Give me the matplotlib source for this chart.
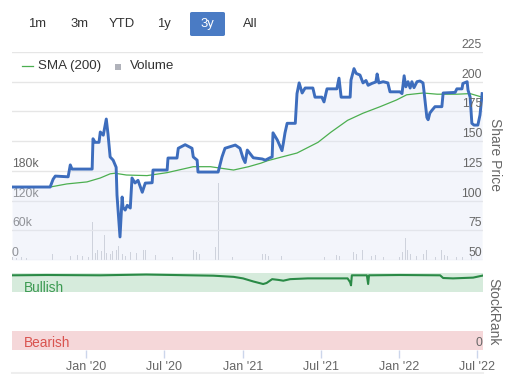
import matplotlib
matplotlib.use("Agg")
import matplotlib.pyplot as plt
import matplotlib.transforms as mtransforms
from matplotlib.patches import FancyBboxPatch, Rectangle
from matplotlib.lines import Line2D
import pandas as pd

plt.rcParams["font.family"] = ["Liberation Sans", "DejaVu Sans"]

# ---- share price ----
price_dates = [
    "2019-07-12", "2019-10-09", "2019-10-16", "2019-10-21", "2019-11-20", "2019-11-25",
    "2019-11-29", "2020-01-15", "2020-01-17", "2020-01-22", "2020-01-31", "2020-02-03",
    "2020-02-10", "2020-02-17", "2020-02-21", "2020-02-26", "2020-03-04", "2020-03-11",
    "2020-03-13", "2020-03-20", "2020-03-25", "2020-03-27", "2020-04-01", "2020-04-06",
    "2020-04-13", "2020-04-17", "2020-04-24", "2020-05-01", "2020-05-11", "2020-05-18",
    "2020-06-03", "2020-06-05", "2020-07-08", "2020-07-10", "2020-07-31", "2020-08-03",
    "2020-08-19", "2020-09-04", "2020-09-07", "2020-09-16", "2020-09-18", "2020-11-04",
    "2020-11-13", "2020-11-20", "2020-12-14", "2020-12-25", "2021-01-01", "2021-01-06",
    "2021-01-11", "2021-01-25", "2021-02-15", "2021-02-22", "2021-03-05", "2021-03-10",
    "2021-03-12", "2021-03-22", "2021-04-02", "2021-04-05", "2021-04-09", "2021-04-14",
    "2021-05-03", "2021-05-07", "2021-05-12", "2021-05-19", "2021-05-26", "2021-06-13",
    "2021-06-18", "2021-07-04", "2021-07-09", "2021-07-16", "2021-08-08", "2021-08-13",
    "2021-08-18", "2021-09-08", "2021-09-10", "2021-09-17", "2021-09-22", "2021-10-01",
    "2021-10-08", "2021-10-15", "2021-10-20", "2021-10-29", "2021-11-07", "2021-11-10",
    "2021-11-14", "2021-11-24", "2021-12-05", "2021-12-10", "2022-01-02", "2022-01-07",
    "2022-01-12", "2022-01-16", "2022-01-21", "2022-01-26", "2022-01-30", "2022-02-04",
    "2022-02-11", "2022-02-18", "2022-02-25", "2022-02-27", "2022-03-06", "2022-03-09",
    "2022-03-13", "2022-03-18", "2022-03-25", "2022-04-10", "2022-04-13", "2022-05-11",
    "2022-05-15", "2022-05-27", "2022-05-29", "2022-06-08", "2022-06-10", "2022-06-15",
    "2022-06-19", "2022-06-24", "2022-07-03", "2022-07-08", "2022-07-13",
]
price = [
    111.4, 111.4, 118, 120.6, 120, 130,
    126.5, 126.5, 152, 149, 149, 157.7,
    155, 168.6, 156, 136.7, 134, 128,
    104.6, 69.4, 103, 94.5, 92, 96,
    93.7, 119, 114.8, 117, 107, 114.7,
    115, 125.7, 125.7, 135.8, 135.8, 144,
    147, 144, 136.7, 134, 124, 124,
    136.7, 144, 146.7, 144, 135.8, 132,
    142.5, 136, 135, 134, 136, 136.7,
    157, 151, 142, 148, 157, 165,
    165, 190, 199, 190.5, 194.7, 194.7,
    187, 187, 183, 194, 194, 203,
    187, 187, 201.4, 211, 207, 205.6,
    199, 201, 197, 198.6, 199.8, 206.5,
    199, 200, 199, 191.5, 191.5, 190,
    205, 195.7, 200, 194.7, 200, 195,
    200, 200.6, 199, 193, 170, 168,
    173.6, 176, 179, 179, 190.5, 191,
    194, 194, 198.5, 200, 193, 187,
    165, 163.5, 163.5, 172, 190,
]

sma_dates = [
    "2019-07-12", "2019-10-09", "2019-11-17", "2020-01-03", "2020-02-03", "2020-02-26",
    "2020-03-08", "2020-04-04", "2020-05-22", "2020-07-08", "2020-09-07", "2020-10-17",
    "2020-12-10", "2021-01-14", "2021-02-12", "2021-02-27", "2021-04-05", "2021-05-07",
    "2021-06-25", "2021-07-25", "2021-09-02", "2021-10-08", "2021-11-17", "2021-12-25",
    "2022-01-18", "2022-02-25", "2022-03-30", "2022-05-15", "2022-06-15", "2022-07-13",
]
sma = [
    111.4, 111.4, 114, 115.7, 119, 122.5,
    123, 121.5, 121, 123.5, 128.5, 128.5,
    125.7, 128.5, 131.5, 133.5, 137, 140,
    149, 157.5, 167.5, 173.5, 179, 184.6,
    189, 190.5, 189.5, 189.5, 190, 187,
]

# ---- volume (thousands) ----
vol_dates = [
    "2019-07-14", "2019-07-23", "2019-08-04", "2019-08-15", "2019-10-14", "2019-10-25",
    "2019-11-08", "2019-11-25", "2019-12-11", "2019-12-23", "2020-01-06", "2020-01-15",
    "2020-01-17", "2020-01-22", "2020-01-27", "2020-01-31", "2020-02-05", "2020-02-12",
    "2020-02-17", "2020-02-21", "2020-02-26", "2020-03-02", "2020-03-06", "2020-03-11",
    "2020-03-16", "2020-03-20", "2020-03-25", "2020-04-01", "2020-04-13", "2020-04-27",
    "2020-05-13", "2020-05-18", "2020-06-10", "2020-07-03", "2020-07-20", "2020-08-07",
    "2020-08-21", "2020-09-07", "2020-09-14", "2020-09-21", "2020-10-02", "2020-10-16",
    "2020-10-28", "2020-11-04", "2020-11-13", "2020-11-20", "2020-12-07", "2021-01-01",
    "2021-01-22", "2021-01-29", "2021-02-05", "2021-02-15", "2021-02-22", "2021-03-01",
    "2021-03-12", "2021-03-19", "2021-03-31", "2021-04-09", "2021-05-07", "2021-05-14",
    "2021-05-28", "2021-06-11", "2021-06-25", "2021-07-11", "2021-08-08", "2021-08-15",
    "2021-09-10", "2021-09-15", "2021-09-22", "2021-10-01", "2021-10-06", "2021-10-15",
    "2021-10-27", "2021-11-07", "2021-11-24", "2021-12-17", "2022-01-02", "2022-01-09",
    "2022-01-14", "2022-01-16", "2022-01-19", "2022-01-26", "2022-02-09", "2022-02-18",
    "2022-02-27", "2022-03-06", "2022-03-11", "2022-03-27", "2022-04-10", "2022-04-17",
    "2022-04-24", "2022-05-15", "2022-05-29", "2022-06-10", "2022-06-19",
]
volume = [
    7, 5, 6, 4, 12, 10,
    6, 8, 10, 8, 6, 77,
    22, 15, 20, 12, 18, 50,
    15, 25, 12, 18, 14, 20,
    28, 22, 12, 8, 17, 15,
    20, 20, 10, 5, 6, 5,
    7, 20, 17, 13, 8, 35,
    27, 155, 20, 13, 6, 7,
    13, 11, 14, 12, 13, 9,
    38, 10, 8, 9, 84, 13,
    10, 8, 10, 7, 10, 8,
    36, 16, 12, 21, 20, 10,
    9, 10, 7, 6, 7, 16,
    20, 45, 20, 13, 8, 10,
    12, 20, 13, 6, 20, 10,
    8, 7, 6, 7, 9,
]

# ---- StockRank ----
rank_dates = [
    "2019-07-12", "2019-10-01", "2020-02-03", "2020-05-20", "2020-10-24", "2020-12-10",
    "2021-01-01", "2021-01-25", "2021-02-17", "2021-02-25", "2021-03-10", "2021-03-25",
    "2021-04-05", "2021-04-21", "2021-06-01", "2021-07-30", "2021-09-02", "2021-09-08",
    "2021-09-10", "2021-09-12", "2021-10-17", "2021-10-20", "2021-10-22", "2022-01-02",
    "2022-04-06", "2022-04-13", "2022-05-06", "2022-06-22", "2022-07-13",
]
rank = [
    97, 97.4, 97, 98, 96.5, 95,
    93, 89, 85.7, 87, 92, 91,
    90, 92, 93, 93, 93, 88,
    84, 97, 97, 85.7, 97, 97.4,
    97, 93.5, 93, 94, 96.5,
]

price_ticks = [50, 75, 100, 125, 150, 175, 200, 225]
vol_ticks = [0, 60, 120, 180]
vol_labels = ["0", "60k", "120k", "180k"]
month_ticks = ["2020-01-01", "2020-07-01", "2021-01-01", "2021-07-01", "2022-01-01", "2022-07-01"]
month_labels = ["Jan '20", "Jul '20", "Jan '21", "Jul '21", "Jan '22", "Jul '22"]
buttons = ["1m", "3m", "YTD", "1y", "3y", "All"]

W, H = 510, 374
GREY = "#666666"


def rect(x0, y0, x1, y1):
    # pixel box (top-left origin) -> figure fraction
    return [x0 / W, 1 - y1 / H, (x1 - x0) / W, (y1 - y0) / H]


fig = plt.figure(figsize=(W / 100, H / 100), dpi=100)

# volume axes underneath, price axes on top (same box, no shared ticks)
ax_v = fig.add_axes(rect(12, 52, 483, 260))
ax = fig.add_axes(rect(12, 52, 483, 260))
ax.patch.set_visible(False)

xmin, xmax = pd.Timestamp("2019-07-12"), pd.Timestamp("2022-07-15")

ax_v.set_ylim(0, 420)
ax.set_ylim(50, 225)
for p in price_ticks:
    ax.axhline(p, color="#e6e6e6", lw=1, zorder=0.5)
ax_v.bar(pd.to_datetime(vol_dates), volume, width=2.0, color="#c6c8d0", zorder=1)

pd_dates = pd.to_datetime(price_dates)
ax.fill_between(pd_dates, price, 50, color="#dfe5f5", alpha=0.35, lw=0, zorder=1)
ax.plot(pd.to_datetime(sma_dates), sma, color="#4caf50", lw=0.9, zorder=2)
ax.plot(pd_dates, price, color="#3d6dbd", lw=2.1, zorder=3, solid_joinstyle="round")

for a in (ax, ax_v):
    a.set_xlim(xmin, xmax)
    for s in a.spines.values():
        s.set_visible(False)
    a.set_xticks([])
    a.set_yticks([])

tr = mtransforms.blended_transform_factory(ax.transAxes, ax.transData)
for p in price_ticks:
    ax.text(0.998, p + 0.8, str(p), transform=tr, ha="right", va="bottom",
            fontsize=8.8, color=GREY)
trv = mtransforms.blended_transform_factory(ax_v.transAxes, ax_v.transData)
for v, lab in zip(vol_ticks, vol_labels):
    ax_v.text(0.0, v + 2, lab, transform=trv, ha="left", va="bottom",
              fontsize=8.8, color=GREY, zorder=5)

fig.text(495 / W, 1 - 155 / H, "Share Price", rotation=-90, ha="center", va="center",
         fontsize=10, color=GREY)

# ---- StockRank panel ----
ax_r = fig.add_axes(rect(12, 273, 483, 350))
ax_r.axhspan(75, 100, color="#d6ebdc", lw=0)
ax_r.axhspan(0, 25, color="#f5d7d9", lw=0)
ax_r.plot(pd.to_datetime(rank_dates), rank, color="#2a8a46", lw=1.5)
ax_r.set_ylim(0, 100)
ax_r.set_xlim(xmin, xmax)
ax_r.set_yticks([])
for s in ax_r.spines.values():
    s.set_visible(False)
ax_r.set_xticks(pd.to_datetime(month_ticks))
ax_r.set_xticklabels(month_labels)
ax_r.tick_params(axis="x", length=6, width=1, color="#ccd6eb", labelcolor=GREY,
                 labelsize=9, pad=2)
ax_r.text(0.026, 81, "Bullish", transform=ax_r.get_yaxis_transform(), ha="left",
          va="center", fontsize=9.8, color="#3c9a52")
ax_r.text(0.026, 9, "Bearish", transform=ax_r.get_yaxis_transform(), ha="left",
          va="center", fontsize=9.8, color="#d9534f")
ax_r.text(0.998, 9, "0", transform=ax_r.get_yaxis_transform(), ha="right",
          va="center", fontsize=8.8, color=GREY)
fig.text(493 / W, 1 - 312 / H, "StockRank", rotation=-90, ha="center", va="center",
         fontsize=10, color=GREY)

# ---- range selector buttons ----
btn_x = [37, 79, 122, 164, 207, 250]
fig.patches.append(FancyBboxPatch((190 / W, 1 - 36 / H), 35 / W, 24 / H,
                                  boxstyle="round,pad=0,rounding_size=0.004",
                                  transform=fig.transFigure, color="#4a7bc4", lw=0))
for label, bx in zip(buttons, btn_x):
    fig.text(bx / W, 1 - 24 / H, label, ha="center", va="center", fontsize=9.4,
             color="white" if label == "3y" else "#333333")

# ---- legend ----
fig.add_artist(Line2D([22 / W, 33 / W], [1 - 66 / H, 1 - 66 / H], color="#4caf50", lw=0.9))
fig.text(38 / W, 1 - 66 / H, "SMA (200)", ha="left", va="center", fontsize=9.6, color="#333333")
fig.patches.append(Rectangle((115.5 / W, 1 - 70 / H), 6 / W, 6 / H,
                             transform=fig.transFigure, color="#b0b2ba", lw=0))
fig.text(130 / W, 1 - 66 / H, "Volume", ha="left", va="center", fontsize=9.6, color="#333333")

# faint navigator strip at the bottom
fig.add_artist(Line2D([12 / W, 483 / W], [1 - 373 / H, 1 - 373 / H], color="#eeeeee", lw=1.5))

fig.savefig("out.png", dpi=100)
